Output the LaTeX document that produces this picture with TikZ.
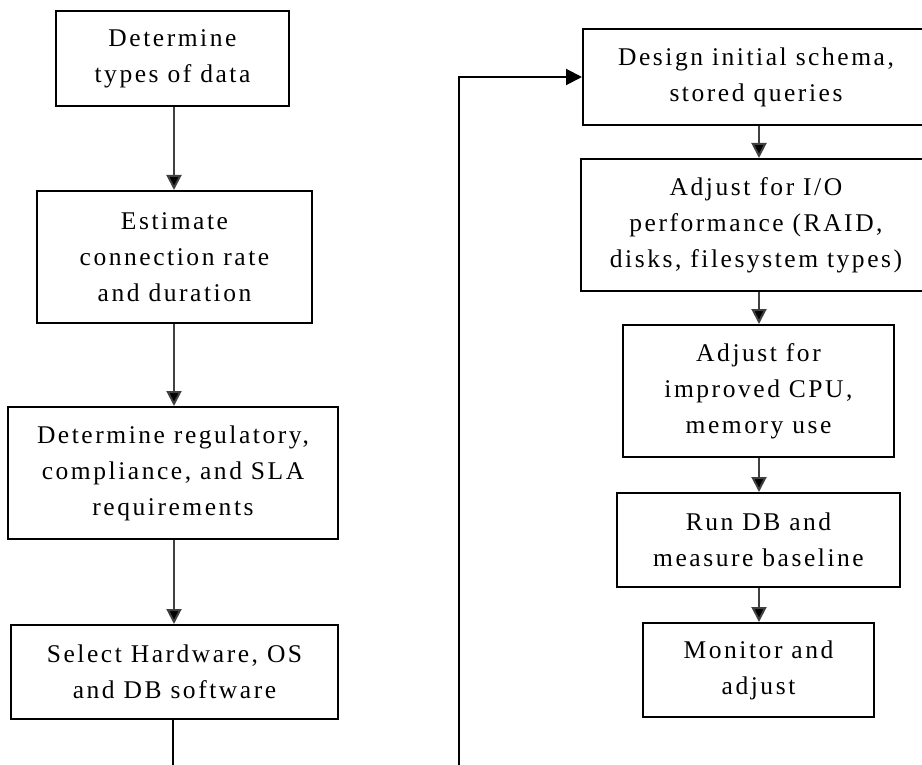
\documentclass[tikz,border=0pt]{standalone}
\usepackage{fontspec}
\setmainfont[LetterSpace=10]{Liberation Serif}
\usetikzlibrary{arrows.meta}
\begin{document}
\begin{tikzpicture}[x=1pt,y=-1pt,
  box/.style={draw=black, line width=2pt, rectangle, align=center, inner sep=0pt,
    font=\fontsize{25.5}{36}\selectfont},
  flow/.style={draw=black!75, line width=2pt, -{Triangle[length=15pt,width=15pt,fill=black]}},
  loopline/.style={draw=black, line width=2pt}]
\useasboundingbox (0,0) rectangle (922,765);
\clip (0,0) rectangle (922,765);
% left column
\node[box, minimum width=233pt, minimum height=95pt] (b1) at (172.5,58.5) {Determine\\types of data};
\node[box, minimum width=275pt, minimum height=132pt] (b2) at (174.5,257) {Estimate\\connection rate\\and duration};
\node[box, minimum width=330pt, minimum height=132pt] (b3) at (173,473) {Determine regulatory,\\compliance, and SLA\\requirements};
\node[box, minimum width=327pt, minimum height=94pt] (b4) at (174.5,672) {Select Hardware, OS\\and DB software};
% right column
\node[box, minimum width=346pt, minimum height=96pt] (b5) at (756,77) {Design initial schema,\\stored queries};
\node[box, minimum width=350pt, minimum height=132pt] (b6) at (756,225) {Adjust for I/O\\performance (RAID,\\disks, filesystem types)};
\node[box, minimum width=271pt, minimum height=132pt] (b7) at (758.5,391) {Adjust for\\improved CPU,\\memory use};
\node[box, minimum width=283pt, minimum height=94pt] (b8) at (758.5,540) {Run DB and\\measure baseline};
\node[box, minimum width=231pt, minimum height=94pt] (b9) at (758.5,670) {Monitor and\\adjust};
% arrows
\coordinate (lx) at (174,0);
\coordinate (rx) at (759,0);
\draw[flow] (lx |- b1.south) -- (lx |- b2.north);
\draw[flow] (lx |- b2.south) -- (lx |- b3.north);
\draw[flow] (lx |- b3.south) -- (lx |- b4.north);
\draw[flow] (rx |- b5.south) -- (rx |- b6.north);
\draw[flow] (rx |- b6.south) -- (rx |- b7.north);
\draw[flow] (rx |- b7.south) -- (rx |- b8.north);
\draw[flow] (rx |- b8.south) -- (rx |- b9.north);
% feedback
\coordinate (e1) at (173,770);
\coordinate (e2) at (459,770);
\draw[loopline] (173,0 |- b4.south) -- (e1);
\draw[loopline, -{Triangle[length=16pt,width=16pt]}] (e2) -- (e2 |- b5.west) -- (b5.west);
\end{tikzpicture}
\end{document}
